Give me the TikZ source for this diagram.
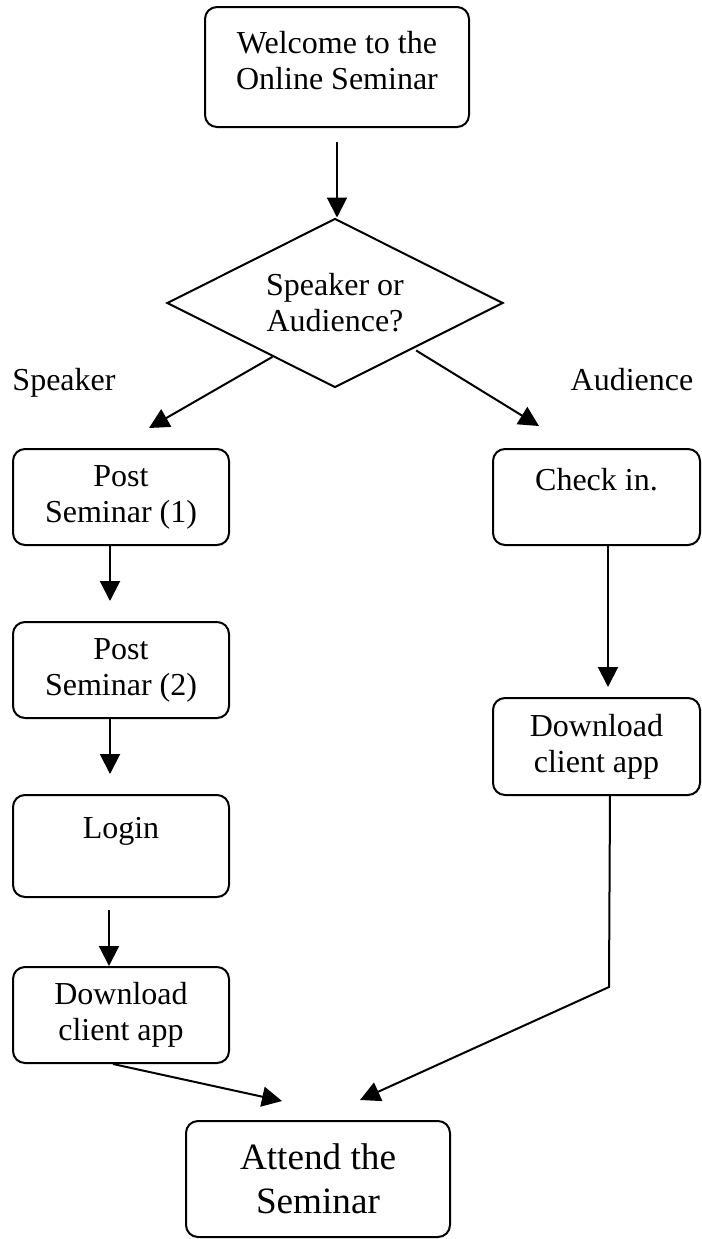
\documentclass[tikz,border=0pt]{standalone}
\usepackage{fontspec}
\setmainfont{Liberation Serif}
\usetikzlibrary{arrows.meta,positioning,shapes.geometric,calc}

\begin{document}
\begin{tikzpicture}[
  x=0.5pt, y=-0.5pt,
  box/.style={rectangle, draw, rounded corners=6pt, line width=1pt,
    minimum width=108pt, minimum height=48pt, inner sep=0pt,
    font=\fontsize{16}{18}\selectfont, align=center},
  decision/.style={diamond, draw, line width=1pt, aspect=2, inner sep=0pt,
    minimum width=168pt, minimum height=84.5pt,
    font=\fontsize{16}{18}\selectfont, align=center},
  lbl/.style={font=\fontsize{16}{18}\selectfont},
  arr/.style={-{Triangle[length=10pt,width=10pt]}, line width=1pt}
]
  \useasboundingbox (0,0) rectangle (702,1239);

  \node[box, minimum width=132pt, minimum height=60pt] (welcome) at (337,67)
    {Welcome to the\\Online Seminar\\[-11pt]\mbox{}};
  \node[decision] (dec) at (335,303) {Speaker or\\Audience?};
  \node[lbl] (spk) at (64,383) {Speaker};
  \node[lbl] (aud) at (632,380) {Audience};

  % speaker side
  \node[box] (post1) at (121,497) {Post\\Seminar (1)};
  \node[box] (post2) at (121,670) {Post\\Seminar (2)};
  \node[box, minimum height=51pt] (login) at (121,846) {Login\\\mbox{}};
  \node[box] (dlspk) at (121,1015) {Download\\client app};

  % audience side
  \node[box, minimum width=103.5pt] (check) at (596.5,497) {Check in.\\\mbox{}};
  \node[box, minimum width=103.5pt, minimum height=48.5pt] (dlaud) at (596.5,746.5)
    {Download\\client app};

  \node[box, minimum width=132pt, minimum height=58pt,
    font=\fontsize{18.6}{22}\selectfont] (attend) at (318,1179) {Attend the\\Seminar};

  \draw[arr] ([yshift=-7pt]welcome.south) -- (welcome.south |- dec.north);
  \draw[arr] ($(dec.west)!0.63!(dec.south)$) -- ([xshift=14pt,yshift=10pt]post1.north);
  \draw[arr] ($(dec.east)!0.52!(dec.south) + (0,3)$) -- ([xshift=-28.75pt,yshift=11pt]check.north);

  \draw[arr] ([xshift=-5.5pt]post1.south) -- ([xshift=-5.5pt,yshift=10pt]post2.north);
  \draw[arr] ([xshift=-5.5pt]post2.south) -- ([xshift=-5.5pt,yshift=10pt]login.north);
  \draw[arr] ([xshift=-6pt,yshift=-6pt]login.south) -- ([xshift=-6pt]dlspk.north);
  \draw[arr] ([xshift=5.75pt]check.south) -- ([xshift=5.75pt,yshift=5pt]dlaud.north);

  \draw[arr] ([xshift=-4pt]dlspk.south) -- ([xshift=-18pt,yshift=9.5pt]attend.north);
  \draw[arr] ([xshift=6.75pt]dlaud.south) -- ++(-1,191) -- ([xshift=21pt,yshift=10pt]attend.north);
\end{tikzpicture}
\end{document}
